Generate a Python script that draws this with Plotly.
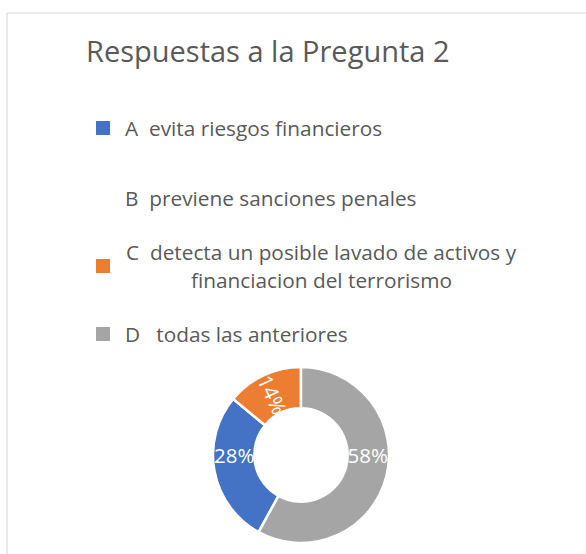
import plotly.graph_objects as go

# ---- data ----
title_text = "Respuestas a la Pregunta 2"
categories = ["A", "B", "C", "D"]
descriptions = [
    "evita riesgos financieros",
    "previene sanciones penales",
    "detecta un posible lavado de activos y<br>financiacion del terrorismo",
    "todas las anteriores",
]
values = [28, 0, 14, 58]
colors = ["#4472C4", "#FFFFFF", "#ED7D31", "#A5A5A5"]
gaps = ["\u00a0 ", "\u00a0 ", "\u00a0 ", "\u00a0\u00a0 "]

W, H = 586, 554
FONT = "Open Sans, Lato, sans-serif"
TXT = "#595959"


def px(x):
    return x / W


def py(y):
    return 1 - y / H


fig = go.Figure()

# donut
cx, cy, r = 301, 455, 88
total = sum(values)
start_rot = 360 * (values[3] / total)
fig.add_trace(go.Pie(
    labels=categories,
    values=values,
    sort=False,
    direction="clockwise",
    rotation=start_rot,
    hole=0.53,
    marker=dict(colors=colors, line=dict(color="white", width=2.5)),
    textinfo="percent",
    texttemplate="%{percent:.0%}",
    textposition="inside",
    insidetextorientation="radial",
    textfont=dict(family=FONT, size=20.5, color="white"),
    showlegend=False,
    hoverinfo="label+percent",
    domain=dict(x=[px(cx - r), px(cx + r)], y=[py(cy + r), py(cy - r)]),
))

annotations = []
shapes = []

# title
annotations.append(dict(
    x=px(268), y=py(51), xref="paper", yref="paper",
    text=title_text, showarrow=False, xanchor="center", yanchor="middle",
    font=dict(family=FONT, size=29, color=TXT),
))

# legend (custom)
item_y = [128, 198, 266, 334]
for i, cat in enumerate(categories):
    yc = item_y[i]
    if values[i] > 0:
        shapes.append(dict(
            type="rect", xref="paper", yref="paper",
            x0=px(96), x1=px(110), y0=py(yc + 7), y1=py(yc - 7),
            fillcolor=colors[i], line=dict(width=0),
        ))
    lines = descriptions[i].split("<br>")
    if len(lines) == 1:
        annotations.append(dict(
            x=px(123), y=py(yc), xref="paper", yref="paper",
            text=cat + gaps[i] + lines[0], showarrow=False,
            xanchor="left", yanchor="middle",
            font=dict(family=FONT, size=20.8, color=TXT),
        ))
    else:
        n = len(lines)
        for j, ln in enumerate(lines):
            t = (cat + gaps[i] + ln) if j == 0 else ln
            annotations.append(dict(
                x=px(321), y=py(yc - 14 * (n - 1) + 28 * j), xref="paper", yref="paper",
                text=t, showarrow=False, xanchor="center", yanchor="middle",
                font=dict(family=FONT, size=20.8, color=TXT),
            ))

# chart frame (top and left edges)
shapes.append(dict(type="line", xref="paper", yref="paper",
                   x0=px(7), x1=1, y0=py(13), y1=py(13),
                   line=dict(color="#D9D9D9", width=1.2)))
shapes.append(dict(type="line", xref="paper", yref="paper",
                   x0=px(7), x1=px(7), y0=py(13), y1=0,
                   line=dict(color="#D9D9D9", width=1.2)))

fig.update_layout(
    width=W, height=H, autosize=False,
    margin=dict(l=0, r=0, t=0, b=0),
    paper_bgcolor="white", plot_bgcolor="white",
    annotations=annotations, shapes=shapes,
    uniformtext=dict(minsize=20, mode="show"),
)

fig.write_html(
    "out.html",
    config={"displayModeBar": False},
    post_script="document.body.style.margin='0';document.body.style.padding='0';",
)
